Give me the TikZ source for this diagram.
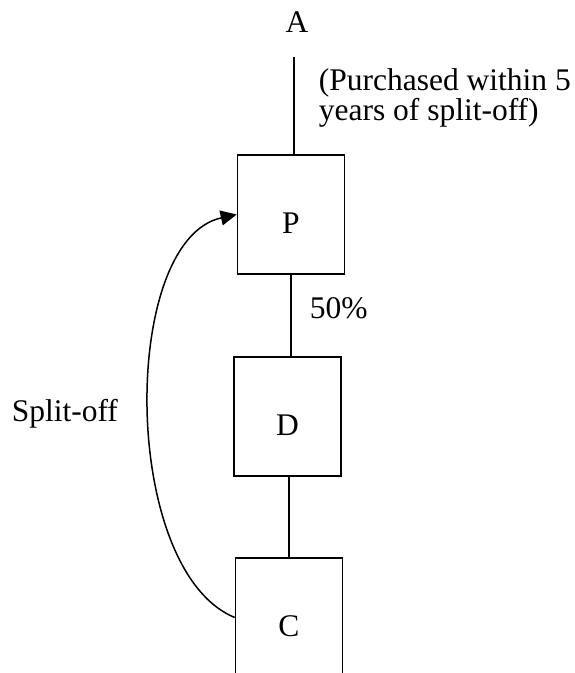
\documentclass[tikz,border=0pt]{standalone}
\usepackage{fontspec}
\setmainfont{Liberation Serif}
\usetikzlibrary{shapes,arrows,arrows.meta,positioning,calc}

\begin{document}
\begin{tikzpicture}[x=1pt, y=-1pt, line width=1.6pt,
    font=\fontsize{31.5}{26}\selectfont,
    box/.style={rectangle, draw, inner sep=0pt, minimum width=107pt,
        text height=78pt, text depth=41pt},
    lbl/.style={inner sep=0pt}]
    \clip (0,0) rectangle (575,673);

    % Owner
    \node[lbl, anchor=base] (a) at (297,32) {A};
    \coordinate (atop) at (294,57);

    % Companies
    \node[box] (p) at (291,214.5) {P};
    \node[box] (d) at (287.5,416.5) {D};
    \node[box] (c) at (289,617.5) {C};

    % Labels
    \node[lbl, anchor=base west, align=left] (purchase) at (318,120)
        {(Purchased within 5\\years of split-off)};
    \node[lbl, anchor=base west] (pct) at (309,318) {50\%};
    \node[lbl, anchor=base west] (split) at (11,421) {Split-off};

    % Connections
    \draw (atop) -- (atop |- p.north);
    \draw (p.south) -- (p.south |- d.north);
    \draw (d.south -| c.north) -- (c.north);
    \draw[-{Triangle[length=16pt,width=15pt]}, line width=1.5pt]
        (c.west) .. controls (120,570) and (120,240) .. (p.west);
\end{tikzpicture}
\end{document}
